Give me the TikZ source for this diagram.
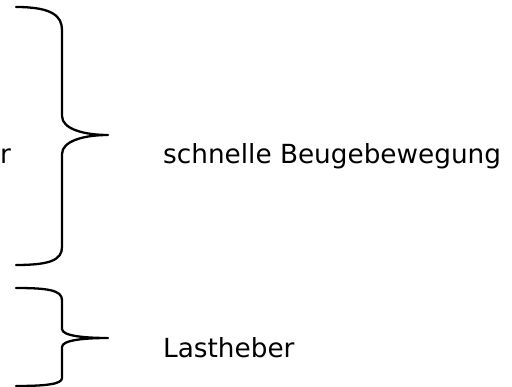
\documentclass[tikz,border=0pt]{standalone}
\usepackage{fontspec}
\setmainfont{DejaVu Sans}
\tikzset{
  bracepath/.style={line width=2.3pt, line cap=round, line join=round},
  lbl/.style={inner sep=0pt, anchor=base west, font=\fontsize{26.3}{30}\selectfont}
}
\begin{document}
\begin{tikzpicture}[x=1pt,y=-1pt]
\useasboundingbox (0,0) rectangle (512,387);
% brace 1
\draw[bracepath] (16,7) .. controls (52,7) and (62,16) .. (62,30)
  -- (62,116) .. controls (62,129) and (84,135) .. (108,135)
  .. controls (84,135) and (62,141) .. (62,154)
  -- (62,247) .. controls (62,260) and (50,265) .. (16,265);
% brace 2
\draw[bracepath] (16,288) .. controls (47,288) and (62,290) .. (62,300)
  -- (62,329) .. controls (62,336) and (85,338) .. (108,338)
  .. controls (85,338) and (62,340) .. (62,347)
  -- (62,378) .. controls (62,384) and (47,386) .. (16,386);
\node[lbl] (r) at (0,164) {r};
\node[lbl] (t1) at (163,164) {schnelle Beugebewegung};
\node[lbl] (t2) at (163,358) {Lastheber};
\end{tikzpicture}
\end{document}
